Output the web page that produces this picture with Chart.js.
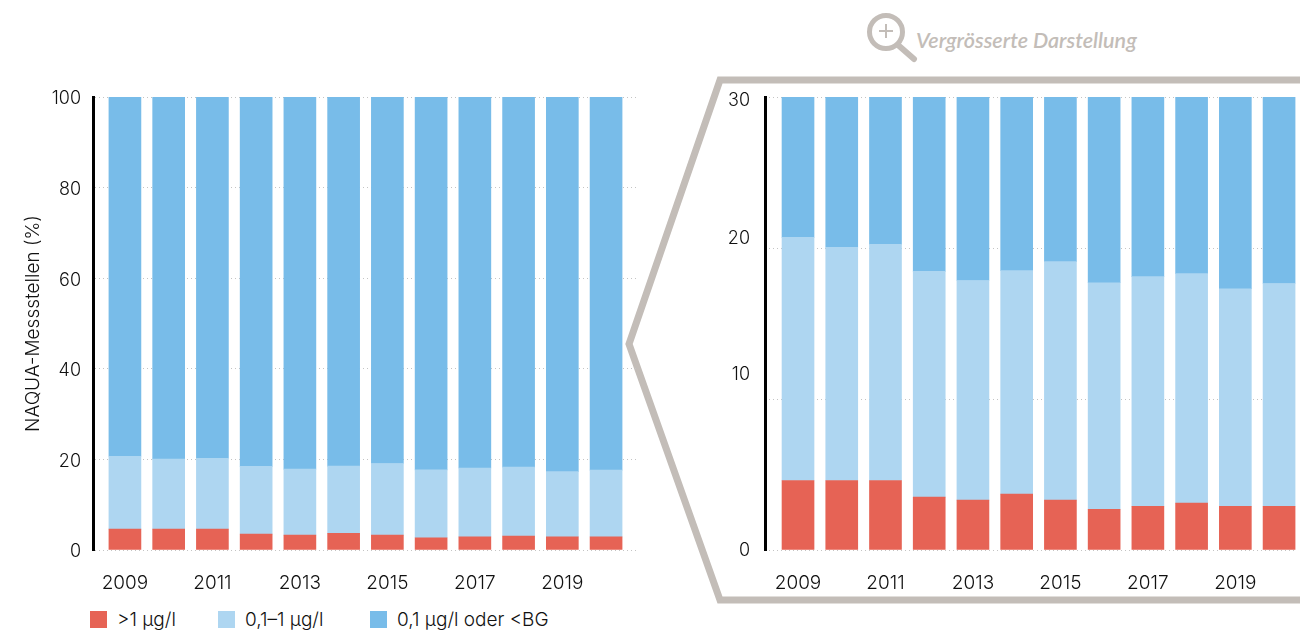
<!DOCTYPE html>
<html>
<head>
<meta charset="utf-8">
<script src="https://cdn.jsdelivr.net/npm/chart.js@4"></script>
<style>
    html, body { margin: 0; padding: 0; background: #fff; }
    #page { position: relative; width: 1300px; height: 630px; overflow: hidden; font-family: Inter, sans-serif; color: #111; }
    #page canvas, #page svg { position: absolute; }
    #frame { left: 0; top: 0; }
    #zoomLabel { position: absolute; left: 916px; top: 27px; font: italic 600 21.5px Lato, sans-serif; color: #c3bdb8; white-space: nowrap; }
    .legend-box { position: absolute; top: 611px; width: 17px; height: 17px; }
    .legend-text { position: absolute; top: 609px; font-size: 19px; font-weight: 300; line-height: 22px; white-space: nowrap; }
</style>
</head>
<body>
<div id="page">
    <svg id="frame" width="1300" height="630">
        <polyline points="1310,80 720,80 629,344 720,600 1310,600" fill="none" stroke="#c3bdb8" stroke-width="7"/>
        <circle cx="886" cy="32" r="16.5" fill="none" stroke="#c3bdb8" stroke-width="5"/>
        <path d="M898 45 L914 59" stroke="#c3bdb8" stroke-width="6" stroke-linecap="round"/>
        <path d="M879 31 H893 M886 24 V38" stroke="#c3bdb8" stroke-width="2"/>
    </svg>
    <div id="zoomLabel">Vergrösserte Darstellung</div>
    <canvas id="mainChart" width="650" height="510" style="left:0;top:85px"></canvas>
    <canvas id="zoomChart" width="580" height="510" style="left:720px;top:85px"></canvas>
    <div id="legend"></div>
</div>
<script>
// Daten
const years = [2009, 2010, 2011, 2012, 2013, 2014, 2015, 2016, 2017, 2018, 2019, 2020];
const highValues = [4.6, 4.6, 4.6, 3.5, 3.3, 3.7, 3.3, 2.7, 2.9, 3.1, 2.9, 2.9];
const midValues = [16.1, 15.45, 15.65, 14.95, 14.55, 14.8, 15.8, 15.0, 15.2, 15.2, 14.4, 14.75];
const lowValues = [79.3, 79.95, 79.75, 81.55, 82.15, 81.5, 80.9, 82.3, 81.9, 81.7, 82.7, 82.35];
const seriesNames = ['>1 µg/l', '0,1–1 µg/l', '0,1 µg/l oder <BG'];
const seriesColors = ['#e66355', '#aed6f1', '#78bce9'];
const yearTicks = [2009, 2011, 2013, 2015, 2017, 2019];
const mainTicks = [0, 20, 40, 60, 80, 100];
const zoomTicks = [0, 10, 20, 30];
// Im Original sitzen die Beschriftungen rechts nicht auf den Gitterlinien
const zoomLabelPositions = [0, 11.7, 20.7, 29.8];

const fontFamily = 'Inter, sans-serif';
const textColor = '#111';

function makeDatasets() {
    return [highValues, midValues, lowValues].map((values, i) => ({
        label: seriesNames[i],
        data: values.map((v, k) => ({ x: years[k], y: v })),
        backgroundColor: seriesColors[i],
        barThickness: 32,
        stack: 'a'
    }));
}

function noPadding(scale) {
    scale.paddingTop = 0;
    scale.paddingBottom = 0;
    scale.paddingLeft = 0;
    scale.paddingRight = 0;
}

function xAxis(min, max) {
    return {
        type: 'linear',
        stacked: true,
        offset: false,
        min: min,
        max: max,
        afterBuildTicks: scale => { scale.ticks = yearTicks.map(v => ({ value: v })); },
        afterFit: scale => { scale.height = 45; noPadding(scale); },
        grid: { display: false },
        border: { display: false },
        ticks: {
            autoSkip: false,
            maxRotation: 0,
            padding: 14,
            color: textColor,
            font: { family: fontFamily, size: 19, weight: '300' },
            callback: v => String(v)
        }
    };
}

const dottedGrid = { color: '#c4c4c4', lineWidth: 1, drawTicks: false };

new Chart(document.getElementById('mainChart'), {
    type: 'bar',
    data: { datasets: makeDatasets() },
    options: {
        responsive: false,
        animation: false,
        layout: { padding: { top: 12, right: 12 } },
        plugins: { legend: { display: false }, tooltip: { enabled: false } },
        scales: {
            x: xAxis(2008.27, 2020.73),
            y: {
                stacked: true,
                min: 0,
                max: 100,
                afterBuildTicks: scale => { scale.ticks = mainTicks.map(v => ({ value: v })); },
                afterFit: scale => { scale.width = 93; noPadding(scale); },
                grid: dottedGrid,
                border: { color: '#000', width: 3, dash: [1, 3] },
                ticks: { padding: 12, labelOffset: 2, color: textColor, font: { family: fontFamily, size: 18, weight: '300' } },
                title: {
                    display: true,
                    text: 'NAQUA-Messstellen (%)',
                    color: textColor,
                    padding: { top: 22 },
                    font: { family: fontFamily, size: 19, weight: '300' }
                }
            }
        }
    }
});

new Chart(document.getElementById('zoomChart'), {
    type: 'bar',
    data: { datasets: makeDatasets() },
    options: {
        responsive: false,
        animation: false,
        layout: { padding: { top: 12, right: 3 } },
        plugins: { legend: { display: false }, tooltip: { enabled: false } },
        scales: {
            x: xAxis(2008.245, 2020.41),
            // Gitter auf den echten Werten
            y: {
                stacked: true,
                min: 0,
                max: 30,
                afterBuildTicks: scale => { scale.ticks = zoomTicks.map(v => ({ value: v })); },
                afterFit: scale => { scale.width = 0; noPadding(scale); },
                grid: dottedGrid,
                border: { display: false, dash: [1, 3] },
                ticks: { display: false }
            },
            // Beschriftung und schwarze Achse
            yLabels: {
                position: 'left',
                min: 0,
                max: 30,
                afterBuildTicks: scale => { scale.ticks = zoomLabelPositions.map(v => ({ value: v })); },
                afterFit: scale => { scale.width = 45; noPadding(scale); },
                grid: { display: false, drawTicks: false },
                border: { color: '#000', width: 3 },
                ticks: {
                    padding: 15,
                    labelOffset: 1,
                    color: textColor,
                    font: { family: fontFamily, size: 18, weight: '300' },
                    callback: (v, i) => String(zoomTicks[i])
                }
            }
        }
    }
});

// Legende von Hand, die Abstände im Bild sind nicht gleichmässig
const legendX = [90, 218, 370];
let legendHtml = '';
seriesNames.forEach((name, i) => {
    const safeName = name.replace('<', '&lt;').replace('>', '&gt;');
    legendHtml += `<div class="legend-box" style="left:${legendX[i]}px;background:${seriesColors[i]}"></div>`;
    legendHtml += `<div class="legend-text" style="left:${legendX[i] + 27}px">${safeName}</div>`;
});
document.getElementById('legend').innerHTML = legendHtml;
</script>
</body>
</html>
